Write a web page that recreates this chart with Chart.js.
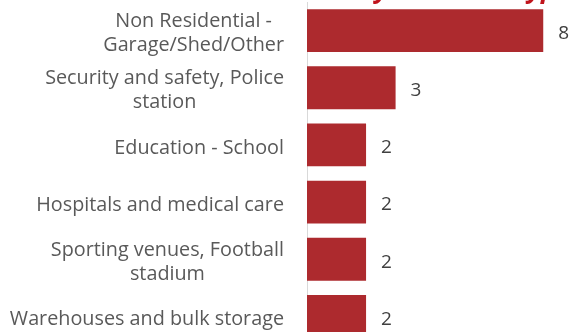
<!DOCTYPE html>
<html>
<head>
<meta charset="utf-8">
<script src="https://cdn.jsdelivr.net/npm/chart.js@4.4.1/dist/chart.umd.min.js"></script>
<style>
  html, body { margin: 0; padding: 0; background: #fff; }
  #wrap { width: 571px; height: 332px; overflow: hidden; position: relative; }
  canvas { display: block; }
</style>
</head>
<body>
<div id="wrap">
  <canvas id="chart" width="571" height="345"></canvas>
</div>
<script>
const categories = [
    ['Non Residential -', 'Garage/Shed/Other'],
    ['Security and safety, Police', 'station'],
    'Education - School',
    'Hospitals and medical care',
    ['Sporting venues, Football', 'stadium'],
    'Warehouses and bulk storage'
];
const fireCounts = [8, 3, 2, 2, 2, 2];
const chartTitle = 'Fires by Premises Type';

const barColor = '#AD2A2E';
const labelFont = '19.8px "Open Sans"';
const labelColor = '#595959';

// category labels: each label block is right aligned, its lines centered
const categoryLabels = {
    id: 'categoryLabels',
    afterDraw(chart) {
        const ctx = chart.ctx;
        const yScale = chart.scales.y;
        const right = chart.chartArea.left - 23;
        const lineHeight = 24;
        ctx.save();
        ctx.font = labelFont;
        ctx.fillStyle = labelColor;
        ctx.textAlign = 'center';
        ctx.textBaseline = 'middle';
        categories.forEach((label, i) => {
            const lines = Array.isArray(label) ? label : [label];
            const maxW = Math.max(...lines.map(l => ctx.measureText(l).width));
            const cx = right - maxW / 2;
            const cy = yScale.getPixelForTick(i) + 3;
            lines.forEach((line, j) => {
                ctx.fillText(line, cx, cy + (j - (lines.length - 1) / 2) * lineHeight);
            });
        });
        ctx.restore();
    }
};

// numbers at the end of each bar
const valueLabels = {
    id: 'valueLabels',
    afterDatasetsDraw(chart) {
        const ctx = chart.ctx;
        const meta = chart.getDatasetMeta(0);
        ctx.save();
        ctx.font = '19px "Open Sans"';
        ctx.fillStyle = '#404040';
        ctx.textAlign = 'left';
        ctx.textBaseline = 'middle';
        meta.data.forEach((bar, i) => {
            ctx.fillText(fireCounts[i], bar.x + 15, bar.y + 3);
        });
        ctx.restore();
    }
};

// title sits above the visible area, only its descenders show
const topTitle = {
    id: 'topTitle',
    afterDraw(chart) {
        const ctx = chart.ctx;
        ctx.save();
        ctx.font = 'italic bold 26px "Open Sans"';
        ctx.fillStyle = '#C0141C';
        ctx.textBaseline = 'alphabetic';
        const x = 375 - ctx.measureText('Fires b').width;
        ctx.fillText(chartTitle, x, -2);
        ctx.restore();
    }
};

new Chart(document.getElementById('chart'), {
    type: 'bar',
    data: {
        labels: categories,
        datasets: [{
            data: fireCounts,
            backgroundColor: barColor,
            borderWidth: 0,
            barPercentage: 0.75,
            categoryPercentage: 1
        }]
    },
    options: {
        indexAxis: 'y',
        responsive: false,
        animation: false,
        layout: { padding: { top: 2, right: 0, bottom: 0, left: 0 } },
        plugins: {
            legend: { display: false },
            tooltip: { enabled: false }
        },
        scales: {
            x: {
                display: false,
                min: 0,
                max: 8.94
            },
            y: {
                grid: { display: false },
                border: { color: '#D9D9D9', width: 1 },
                ticks: { display: false },
                afterFit: (scale) => { scale.width = 307; }
            }
        }
    },
    plugins: [categoryLabels, valueLabels, topTitle]
});
</script>
</body>
</html>
